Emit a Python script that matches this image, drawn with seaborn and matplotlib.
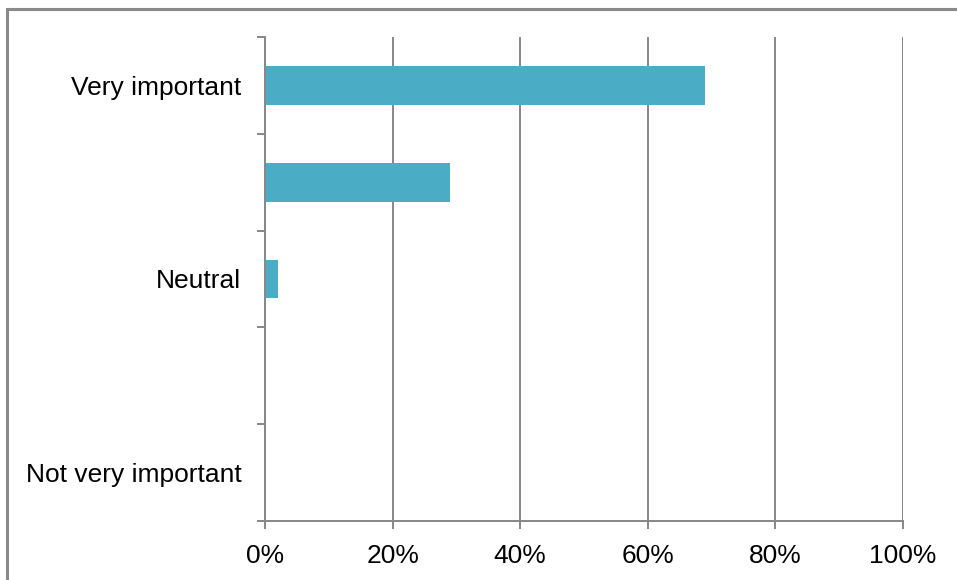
import matplotlib
matplotlib.use("Agg")
import matplotlib.pyplot as plt
from matplotlib.ticker import FixedLocator
import seaborn as sns
import pandas as pd

# ---- data ----
categories = ["Very important", "Somewhat important", "Neutral", "Not important", "Not very important"]
values = [69, 29, 2, 0, 0]  # percent of responses
x_ticks = [0, 20, 40, 60, 80, 100]
x_tick_labels = ["0%", "20%", "40%", "60%", "80%", "100%"]

BAR = "#4BACC6"
GRAY = "#878787"

sns.set_style("white")
plt.rcParams["font.family"] = ["Liberation Sans", "DejaVu Sans"]

df = pd.DataFrame({"category": categories, "value": values})

W, H = 957, 580
fig = plt.figure(figsize=(W / 100, H / 100), dpi=100)
ax = fig.add_axes([265 / W, 1 - 521 / H, (903 - 265) / W, (521 - 37) / H])

sns.barplot(data=df, x="value", y="category", order=categories, orient="h",
            color=BAR, saturation=1, width=0.4, linewidth=0, edgecolor=BAR,
            ax=ax, zorder=3)
for p in ax.patches:
    if p.get_width() == 0:
        p.set_visible(False)

ax.set_xlim(0, 100)
ax.set_ylim(len(categories) - 0.5, -0.5)
ax.set_xlabel("")
ax.set_ylabel("")

# x axis
ax.set_xticks(x_ticks)
ax.set_xticklabels(x_tick_labels, fontsize=19)
ax.tick_params(axis="x", which="major", bottom=True, direction="out", length=5.5,
               width=1.4, color=GRAY, pad=11, labelcolor="black")
ax.xaxis.grid(True, color=GRAY, linewidth=1.4)
ax.yaxis.grid(False)
ax.set_axisbelow(True)

# y axis: labels at centers (every other one shown), tick marks at boundaries
ax.set_yticks(range(len(categories)))
ax.set_yticklabels([c if i % 2 == 0 else "" for i, c in enumerate(categories)], fontsize=19)
ax.yaxis.set_minor_locator(FixedLocator([i - 0.5 for i in range(len(categories) + 1)]))
ax.tick_params(axis="y", which="major", left=True, length=0, pad=17, labelcolor="black")
ax.tick_params(axis="y", which="minor", left=True, direction="out", length=5.8,
               width=1.4, color=GRAY)

for side in ["top", "right"]:
    ax.spines[side].set_visible(False)
for side in ["left", "bottom"]:
    ax.spines[side].set_color(GRAY)
    ax.spines[side].set_linewidth(1.4)
    ax.spines[side].set_zorder(4)

# outer chart border (only top and left visible in the crop)
border = plt.Rectangle((7 / W, -0.1), 1.2, (1 - 8.5 / H) + 0.1, transform=fig.transFigure,
                       fill=False, edgecolor="#8a8a8a", linewidth=2.2)
fig.add_artist(border)

fig.savefig("out.png", dpi=100, facecolor="white")
